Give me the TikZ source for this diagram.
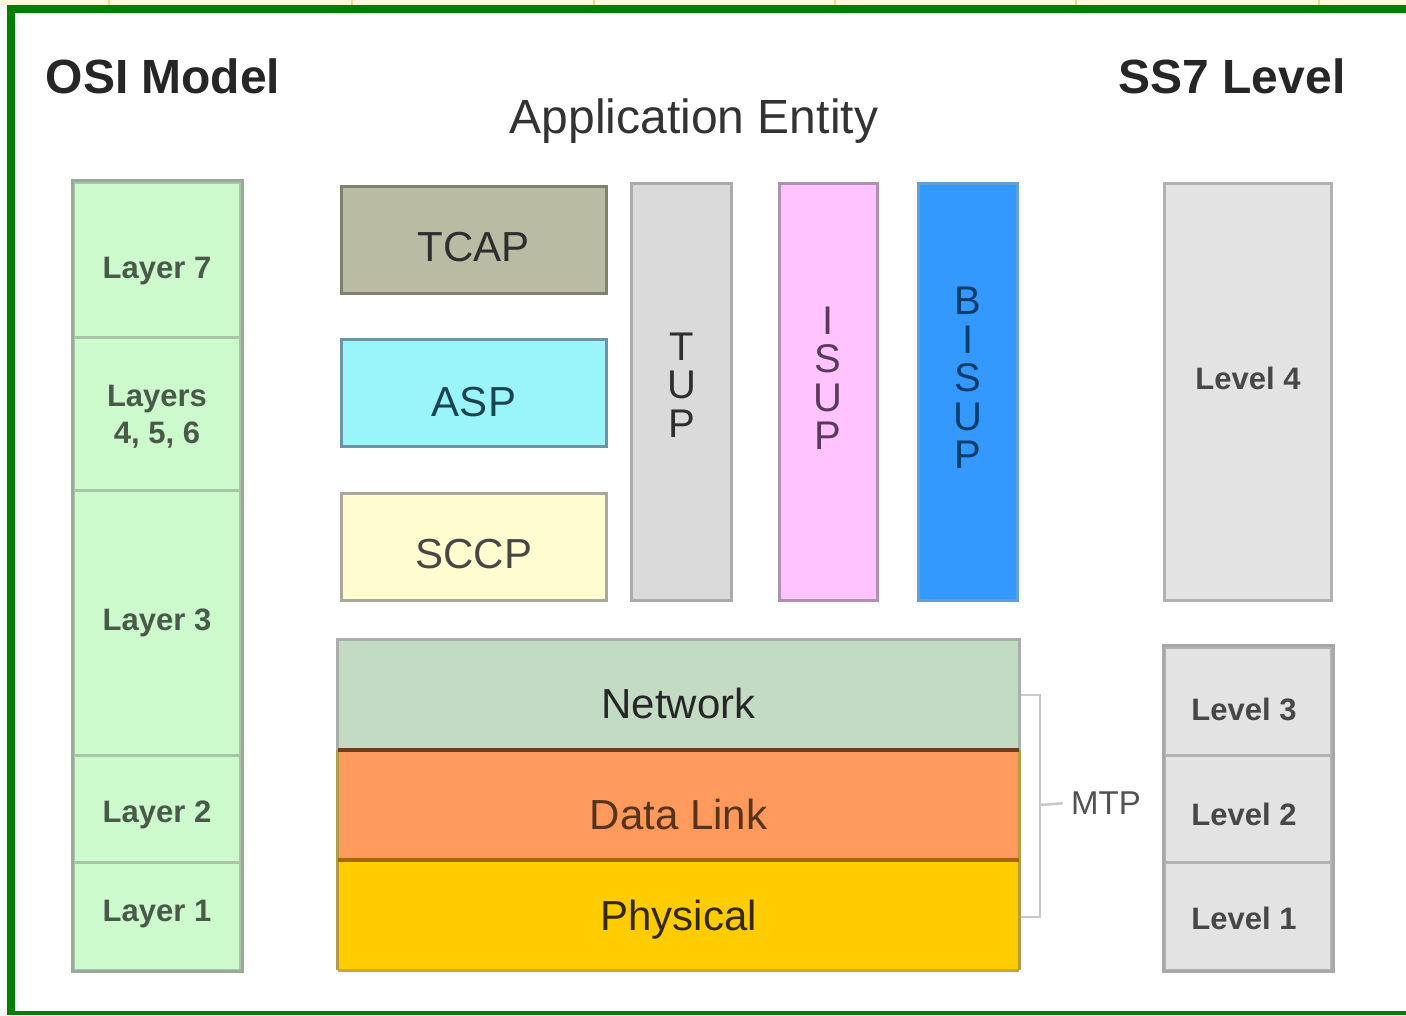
\documentclass[tikz,border=0pt]{standalone}
\usepackage{fontspec}
\setmainfont{Liberation Sans}
\definecolor{frame}{HTML}{008000}
\definecolor{strip}{HTML}{FFF9DC}
\definecolor{stripline}{HTML}{F3D690}
\definecolor{osifill}{HTML}{CCFACC}
\definecolor{osidiv}{HTML}{A9C6A9}
\definecolor{osiedge}{HTML}{9AA99A}
\definecolor{ositext}{HTML}{4A5A4A}
\definecolor{tcapfill}{HTML}{B9BBA3}
\definecolor{tcapedge}{HTML}{7F816F}
\definecolor{aspfill}{HTML}{9AF5FB}
\definecolor{aspedge}{HTML}{6B95A3}
\definecolor{asptext}{HTML}{1C4450}
\definecolor{sccpfill}{HTML}{FFFDD0}
\definecolor{sccpedge}{HTML}{A9A89A}
\definecolor{greyfill}{HTML}{DADADA}
\definecolor{greyedge}{HTML}{ABABAB}
\definecolor{isupfill}{HTML}{FFC3FF}
\definecolor{isupedge}{HTML}{B38EB3}
\definecolor{isuptext}{HTML}{5A3A5A}
\definecolor{bisupfill}{HTML}{3399FF}
\definecolor{bisupedge}{HTML}{5F9FD6}
\definecolor{bisuptext}{HTML}{0A3D6B}
\definecolor{levelfill}{HTML}{E3E3E3}
\definecolor{leveledge}{HTML}{B2B2B2}
\definecolor{levelouter}{HTML}{A8A8A8}
\definecolor{netfill}{HTML}{C2DBC2}
\definecolor{netedge}{HTML}{A8AFA8}
\definecolor{dlfill}{HTML}{FF9A5C}
\definecolor{dlsep}{HTML}{6B4020}
\definecolor{phyfill}{HTML}{FFCC00}
\definecolor{physep}{HTML}{A06A00}
\definecolor{phyedge}{HTML}{C8A830}
\definecolor{bracket}{HTML}{C8C8C8}
\begin{document}
\begin{tikzpicture}[x=1pt,y=-1pt,
  box/.style={rectangle, draw, line width=3pt, inner sep=0pt},
  big/.style={font=\fontsize{42}{46}\selectfont, inner sep=0pt},
  tall/.style={font=\fontsize{40}{38.5}\selectfont, align=center, inner sep=0pt},
  small/.style={font=\bfseries\fontsize{31}{37}\selectfont, align=center, inner sep=0pt},
  title/.style={font=\bfseries\fontsize{48}{52}\selectfont, text=black!85},
  osiseg/.style={box, fill=osifill, draw=osidiv, minimum width=167pt},
  levseg/.style={box, fill=levelfill, draw=leveledge, minimum width=167pt},
  osilbl/.style={small, text=ositext},
  levlbl/.style={small, text=black!72},
  proto/.style={box, minimum width=265pt, minimum height=107pt},
  column/.style={box, minimum height=417pt},
  stack/.style={rectangle, inner sep=0pt, minimum width=681pt, minimum height=110pt}
]
\useasboundingbox (0,0) rectangle (1406,1015);
\fill[white] (0,0) rectangle (1406,1015);

% page strip and green frame
\fill[strip] (0,0) rectangle (1406,5);
\foreach \sx in {109,352,594,835,1076,1319}
  \draw[stripline, line width=1.5pt] (\sx,0) -- (\sx,5);
\fill[frame] (7,5) rectangle (1406,13);
\fill[frame] (7,5) rectangle (15,1015);
\fill[frame] (7,1011) rectangle (1406,1015);

% headings
\node[title] (osititle) at (163,76) {OSI Model};
\node[title] (ss7title) at (1232,76) {SS7 Level};
\node[font=\fontsize{48}{52}\selectfont, text=black!80] (appent) at (694,121) {Application Entity};

% OSI layers
\node[osiseg, minimum height=155pt] (l7) at (157,259.5) {};
\node[osiseg, minimum height=153pt] (l456) at (157,413.5) {};
\node[osiseg, minimum height=265pt] (l3) at (157,622.5) {};
\node[osiseg, minimum height=107pt] (l2) at (157,808.5) {};
\node[osiseg, minimum height=108pt] (l1) at (157,916) {};
\draw[osiedge, line width=3pt] (l7.north west) rectangle (l1.south east);
\node[osilbl] (l7lbl) at (157,271) {Layer 7};
\node[osilbl] (l456lbl) at (157,417) {Layers\\4, 5, 6};
\node[osilbl] (l3lbl) at (157,623) {Layer 3};
\node[osilbl] (l2lbl) at (157,815) {Layer 2};
\node[osilbl] (l1lbl) at (157,914) {Layer 1};

% application level protocols
\node[proto, fill=tcapfill, draw=tcapedge] (tcap) at (474,240) {};
\node[big, text=black!82] (tcaplbl) at (474,247) {TCAP};
\node[proto, fill=aspfill, draw=aspedge] (asp) at (474,393) {};
\node[big, text=asptext] (asplbl) at (474,402) {ASP};
\node[proto, fill=sccpfill, draw=sccpedge] (sccp) at (474,547) {};
\node[big, text=black!72] (sccplbl) at (474,554) {SCCP};

\node[column, fill=greyfill, draw=greyedge, minimum width=100pt] (tup) at (681.5,392) {};
\node[tall, text=black!82] (tuplbl) at (681.5,385) {T\\U\\P};
\node[column, fill=isupfill, draw=isupedge, minimum width=98pt] (isup) at (828,392) {};
\node[tall, text=isuptext] (isuplbl) at (828,378) {I\\S\\U\\P};
\node[column, fill=bisupfill, draw=bisupedge, minimum width=99pt] (bisup) at (968,392) {};
\node[tall, text=bisuptext] (bisuplbl) at (968,378) {B\\I\\S\\U\\P};

% SS7 level 4
\node[levseg, minimum height=417pt] (lev4) at (1248,392) {};
\node[levlbl] (lev4lbl) at (1248,378) {Level 4};

% MTP stack
\node[stack, fill=netfill] (net) at (678.5,695) {};
\node[stack, fill=dlfill] (dl) at (678.5,805) {};
\node[stack, fill=phyfill] (phy) at (678.5,915) {};
\draw[netedge, line width=3pt] (net.south west) -- (net.north west) -- (net.north east) -- (net.south east);
\draw[phyedge!70!gray, line width=3pt] (dl.north west) -- (phy.south west);
\draw[phyedge!70!gray, line width=3pt] (dl.north east) -- (phy.south east);
\draw[phyedge, line width=3pt] (phy.south west) -- (phy.south east);
\draw[dlsep, line width=4pt] (net.south west) -- (net.south east);
\draw[physep, line width=4pt] (dl.south west) -- (dl.south east);
\node[big, text=black!85] (netlbl) at (678.5,703) {Network};
\node[big, text=dlsep!80!black] (dllbl) at (678.5,814) {Data Link};
\node[big, text=black!80!phyfill] (phylbl) at (678.5,920) {Physical};

% SS7 levels 1 to 3
\node[levseg, minimum height=108pt] (lev3) at (1248,701) {};
\node[levseg, minimum height=107pt] (lev2) at (1248,808.5) {};
\node[levseg, minimum height=108pt] (lev1) at (1248,916) {};
\draw[levelouter, line width=3pt] (lev3.north west) rectangle (lev1.south east);
\node[levlbl] (lev3lbl) at (1244,709) {Level 3};
\node[levlbl] (lev2lbl) at (1244,814) {Level 2};
\node[levlbl] (lev1lbl) at (1244,918) {Level 1};

% MTP bracket
\node[font=\fontsize{33}{36}\selectfont, text=black!68] (mtp) at (1106,803) {MTP};
\coordinate (bt) at ([xshift=21pt]net.east);
\coordinate (bb) at ([xshift=21pt,yshift=-2pt]phy.east);
\coordinate (bm) at ([xshift=21pt]dl.east);
\draw[bracket, line width=2.5pt] ([xshift=1.5pt]net.east) -- (bt) -- (bb) -- ([xshift=1.5pt,yshift=-2pt]phy.east);
\draw[bracket, line width=2.5pt, shorten >=5pt] (bm) -- (mtp.west);
\end{tikzpicture}
\end{document}
